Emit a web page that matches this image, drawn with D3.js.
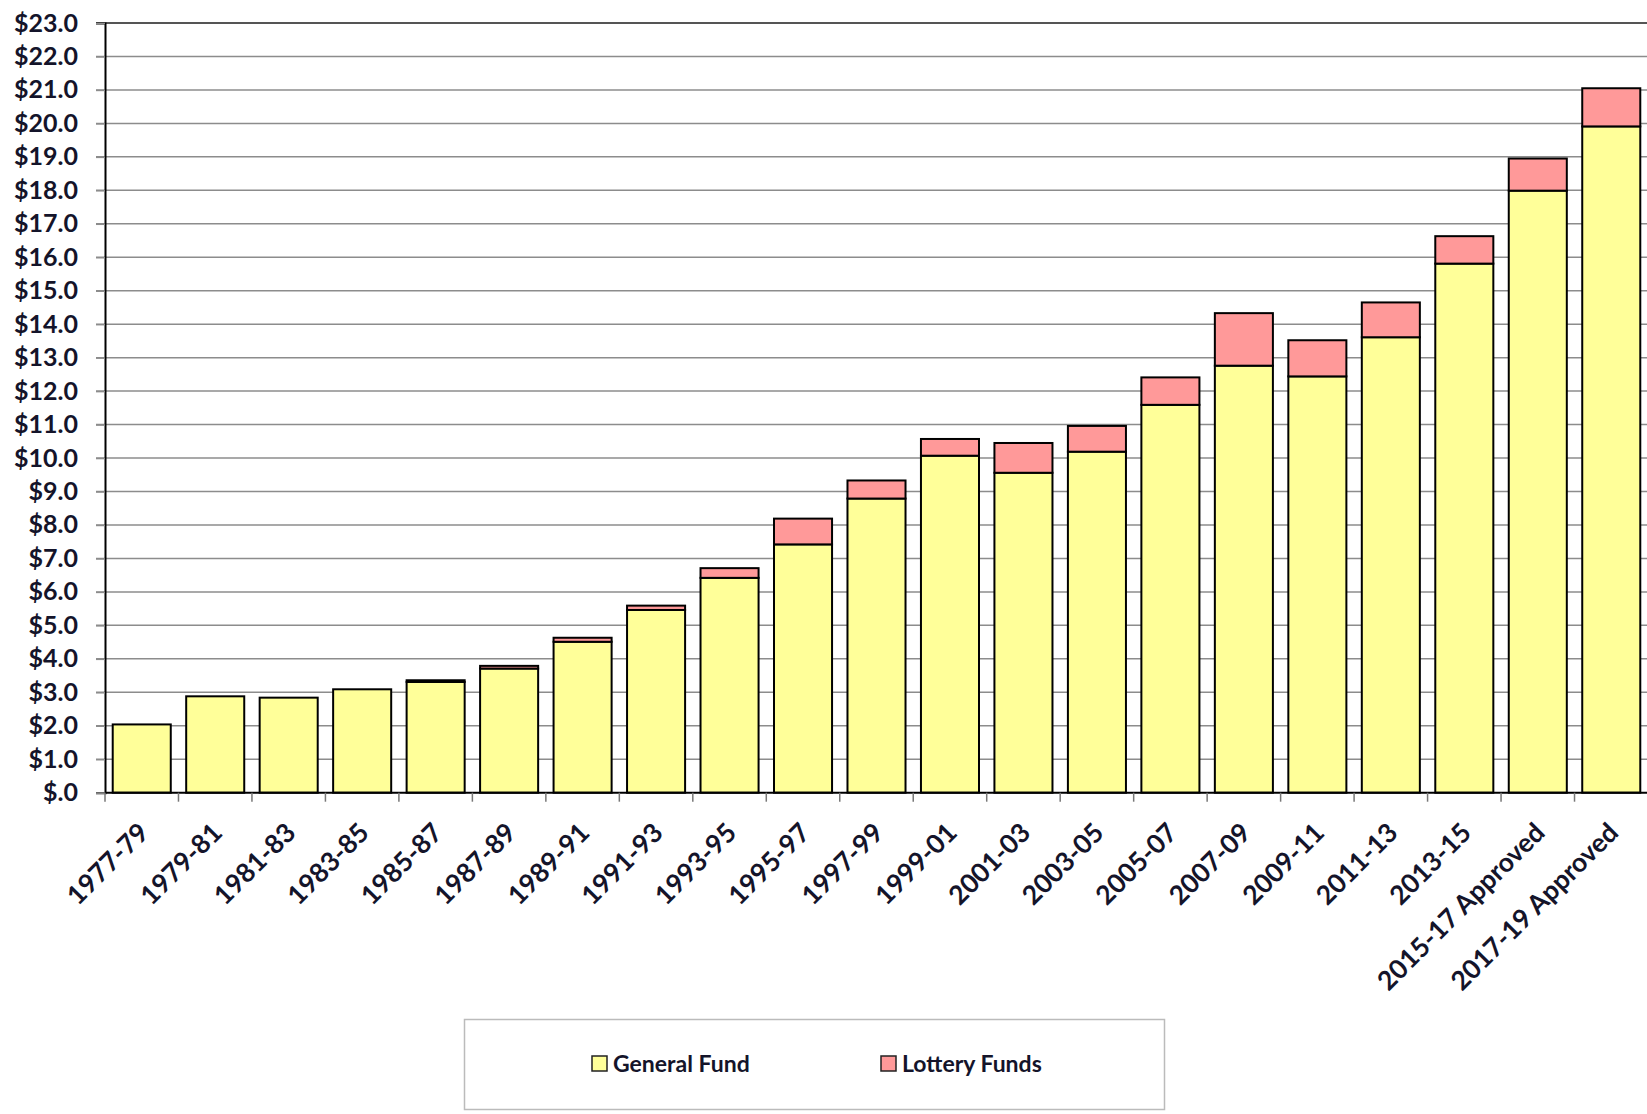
<!DOCTYPE html>
<html>
<head>
<meta charset="utf-8">
<script src="https://cdn.jsdelivr.net/npm/d3@7"></script>
<style>
  html, body { margin: 0; padding: 0; background: #fff; }
  svg { display: block; }
  text { font-family: Lato, "Open Sans", sans-serif; }
</style>
</head>
<body>
<svg id="chart" width="1647" height="1114"></svg>
<script>
const categories = ["1977-79","1979-81","1981-83","1983-85","1985-87","1987-89","1989-91","1991-93","1993-95","1995-97","1997-99","1999-01","2001-03","2003-05","2005-07","2007-09","2009-11","2011-13","2013-15","2015-17 Approved","2017-19 Approved"];
const generalFund = [2.04, 2.88, 2.84, 3.09, 3.31, 3.71, 4.51, 5.46, 6.42, 7.42, 8.79, 10.07, 9.56, 10.19, 11.59, 12.76, 12.44, 13.61, 15.81, 17.99, 19.91];
const lotteryFunds = [0.0, 0.0, 0.0, 0.0, 0.05, 0.08, 0.12, 0.13, 0.29, 0.77, 0.54, 0.50, 0.89, 0.77, 0.82, 1.57, 1.08, 1.04, 0.82, 0.96, 1.14];
const yTicks = d3.range(0, 24, 1);
const seriesNames = ["General Fund", "Lottery Funds"];
const seriesColors = ["#FFFF99", "#FF9999"];

(function () {
const svg = d3.select("#chart");
const pLeft = 105, pRight = 1648, pTop = 23, pBottom = 792.7;

const x = d3.scaleBand().domain(categories).range([pLeft, pRight]).paddingInner(0.21).paddingOuter(0.105);
const y = d3.scaleLinear().domain([0, 23]).range([pBottom, pTop]);

// gridlines
svg.append("g").selectAll("line").data(yTicks.filter(d => d > 0)).join("line")
  .attr("x1", pLeft - 9).attr("x2", 1647)
  .attr("y1", d => y(d)).attr("y2", d => y(d))
  .attr("stroke", d => d === 23 ? "#555" : "#8c8c8c")
  .attr("stroke-width", d => d === 23 ? 2 : 1.5);

// y axis
const yAxis = d3.axisLeft(y).tickValues(yTicks).tickSize(9)
  .tickFormat(d => "$" + (d === 0 ? ".0" : d.toFixed(1)));
const gy = svg.append("g").attr("transform", `translate(${pLeft},0)`).call(yAxis);
gy.select(".domain").attr("stroke", "#000").attr("stroke-width", 2);
gy.selectAll(".tick line").attr("stroke", "#8c8c8c").attr("stroke-width", 1.5);
gy.selectAll(".tick text").attr("x", -27).attr("text-anchor", "end")
  .attr("font-size", 25).attr("font-weight", "bold").attr("fill", "#14142a");

// stacked data
const rows = categories.map((c, i) => ({ cat: c, g: generalFund[i], l: lotteryFunds[i] }));
const stack = d3.stack().keys(["g", "l"])(rows);

svg.append("g").selectAll("g").data(stack).join("g")
  .attr("fill", (d, i) => seriesColors[i])
  .selectAll("rect").data(d => d.filter(p => p[1] - p[0] > 0)).join("rect")
  .attr("x", d => x(d.data.cat))
  .attr("width", x.bandwidth())
  .attr("y", d => y(d[1]))
  .attr("height", d => y(d[0]) - y(d[1]))
  .attr("stroke", "#000").attr("stroke-width", 2);

// x axis
const gx = svg.append("g").attr("transform", `translate(0,${pBottom})`);
gx.append("line").attr("x1", pLeft).attr("x2", 1647).attr("y1", 0).attr("y2", 0)
  .attr("stroke", "#000").attr("stroke-width", 2);
const boundaries = categories.map(c => x(c) - x.step() * x.paddingInner() / 2);
gx.selectAll("line.tk").data(boundaries).join("line").attr("class", "tk")
  .attr("x1", d => d).attr("x2", d => d).attr("y1", 0).attr("y2", 9)
  .attr("stroke", "#777").attr("stroke-width", 1.5);
gx.selectAll("text").data(categories).join("text")
  .attr("transform", d => `translate(${x(d) + x.bandwidth() / 2 + 2},${35}) rotate(-45)`)
  .attr("text-anchor", "end").attr("dy", "0.35em")
  .attr("font-size", 26.5).attr("font-weight", "bold").attr("fill", "#14142a")
  .text(d => d);

// legend
const lg = svg.append("g");
lg.append("rect").attr("x", 464.5).attr("y", 1019.5).attr("width", 700).attr("height", 90)
  .attr("fill", "#fff").attr("stroke", "#bbb").attr("stroke-width", 1.5);
const legendX = [592, 881];
seriesNames.forEach((n, i) => {
  lg.append("rect").attr("x", legendX[i]).attr("y", 1056).attr("width", 15).attr("height", 15)
    .attr("fill", seriesColors[i]).attr("stroke", "#222").attr("stroke-width", 1.5);
  lg.append("text").attr("x", legendX[i] + 21).attr("y", 1064).attr("dy", "0.35em")
    .attr("font-size", 23).attr("font-weight", "bold").attr("fill", "#14142a").text(n);
});
})();
</script>
</body>
</html>
